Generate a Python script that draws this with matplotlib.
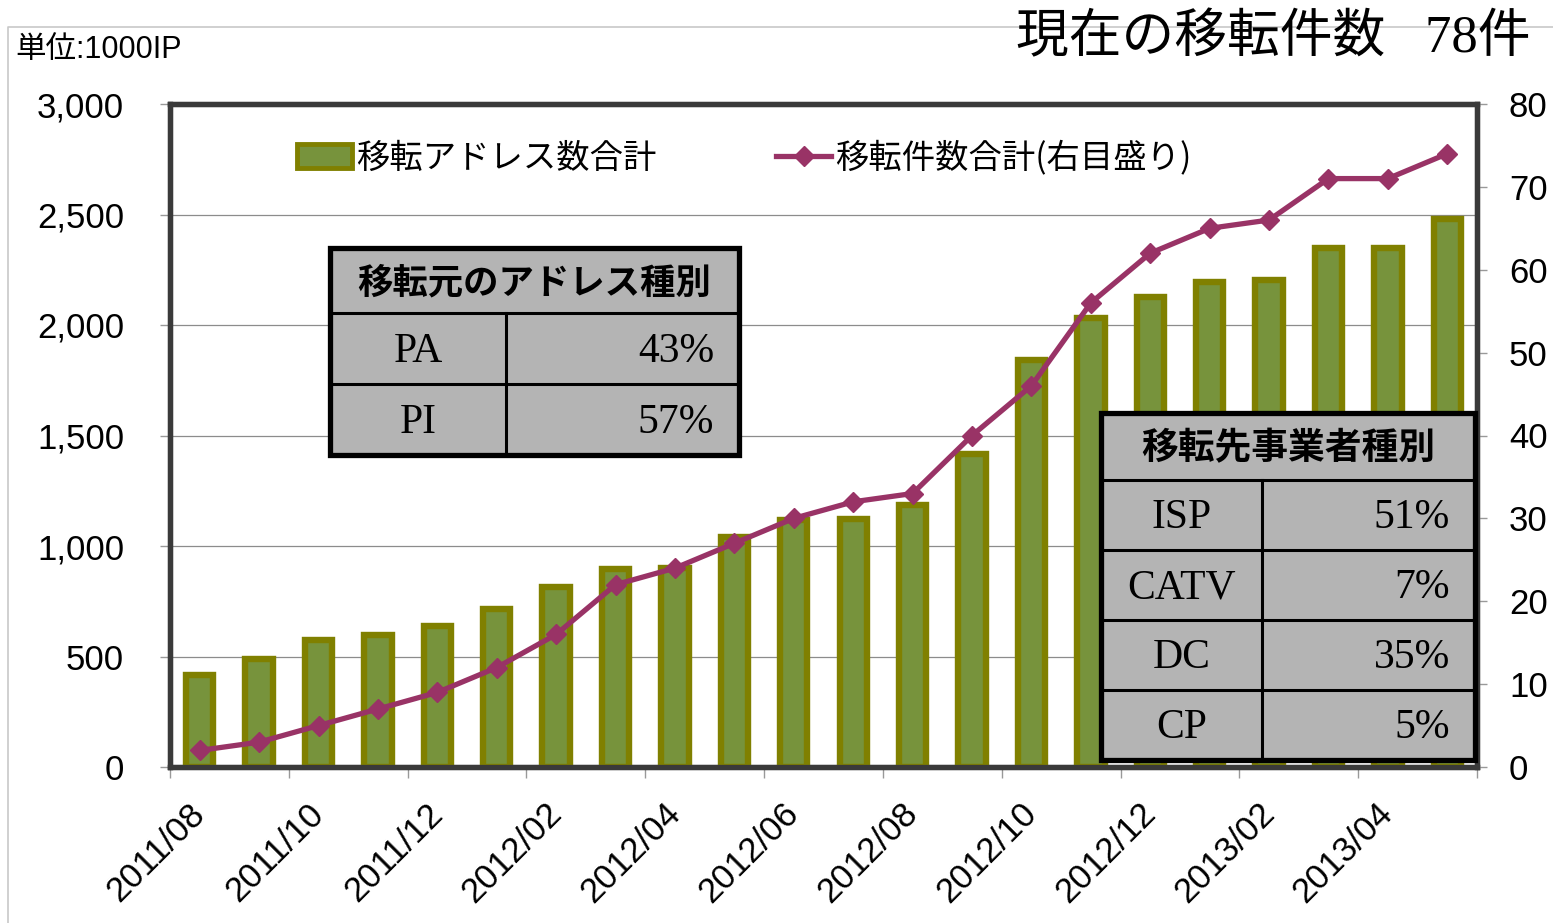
import numpy as np
import matplotlib.pyplot as plt
from matplotlib.patches import Rectangle, Patch
from matplotlib.lines import Line2D

plt.rcParams['font.family'] = ['Liberation Sans', 'Noto Sans CJK JP', 'DejaVu Sans']

# data
months = ['2011/08', '2011/09', '2011/10', '2011/11', '2011/12', '2012/01',
          '2012/02', '2012/03', '2012/04', '2012/05', '2012/06', '2012/07',
          '2012/08', '2012/09', '2012/10', '2012/11', '2012/12', '2013/01',
          '2013/02', '2013/03', '2013/04', '2013/05']
addr_total = [416, 489, 575, 597, 638, 715, 814, 896, 900, 1041, 1118, 1122,
              1186, 1416, 1842, 2032, 2127, 2195, 2204, 2348, 2348, 2480]
case_total = [2, 3, 5, 7, 9, 12, 16, 22, 24, 27, 30, 32,
              33, 40, 46, 56, 62, 65, 66, 71, 71, 74]

src_header = '移転元のアドレス種別'
src_names = ['PA', 'PI']
src_pct = ['43%', '57%']
dst_header = '移転先事業者種別'
dst_names = ['ISP', 'CATV', 'DC', 'CP']
dst_pct = ['51%', '7%', '35%', '5%']

BAR_FACE, BAR_EDGE, LINE_C = '#77933C', '#808000', '#993366'

W, H = 1553, 923
fig = plt.figure(figsize=(W / 100, H / 100), dpi=100)
ax = fig.add_axes([170 / W, 1 - 767 / H, (1477 - 170) / W, (767 - 104) / H])
ax2 = ax.twinx()

x = np.arange(len(months))
ax.bar(x, addr_total, width=0.46, color=BAR_FACE, edgecolor=BAR_EDGE,
       linewidth=4.6, zorder=3)
ax.set_xlim(-0.5, len(months) - 0.5)
ax.set_ylim(0, 3000)
ax.set_yticks(np.arange(0, 3001, 500))
ax.set_yticklabels([f'{v:,}' for v in range(0, 3001, 500)])
ax.yaxis.grid(True, color='#8c8c8c', linewidth=0.9, zorder=0)
ax.set_axisbelow(True)

# category boundaries every 2 months as tick marks, labels at bar centres
ax.set_xticks(np.arange(-0.5, len(months), 2))
ax.set_xticklabels([])
ax.set_xticks(x[::2], minor=True)
ax.set_xticklabels(months[::2], minor=True, rotation=45, ha='right',
                   va='center', rotation_mode='anchor', fontsize=25)
ax.tick_params(axis='x', which='major', length=8, color='#999999', width=1)
ax.tick_params(axis='x', which='minor', length=0, pad=30)
ax.tick_params(axis='y', length=7, color='#999999', width=1, labelsize=25, pad=26)

ax2.plot(x, case_total, color=LINE_C, linewidth=3.8, marker='D',
         markersize=10, zorder=4)
ax2.set_ylim(0, 80)
ax2.set_yticks(np.arange(0, 81, 10))
ax2.tick_params(axis='y', length=7, color='#999999', width=1, labelsize=25, pad=16)

for a in (ax, ax2):
    for s in a.spines.values():
        s.set_color('#3a3a3a')
        s.set_linewidth(3.8)

handles = [Patch(facecolor=BAR_FACE, edgecolor=BAR_EDGE, linewidth=3.5),
           Line2D([], [], color=LINE_C, linewidth=3.8, marker='D', markersize=10)]
ax2.legend(handles, ['移転アドレス数合計', '移転件数合計(右目盛り)'],
           loc='upper left', bbox_to_anchor=(280 / W, 1 - 124 / H),
           bbox_transform=fig.transFigure, ncol=2, frameon=False,
           borderpad=0, handlelength=1.65, handleheight=0.7,
           handletextpad=0.12, columnspacing=3.6,
           prop={'family': ['Noto Sans CJK JP'], 'size': 24})

# overlay in pixel coordinates for the tables and free text
ov = fig.add_axes([0, 0, 1, 1], zorder=10)
ov.set_xlim(0, W)
ov.set_ylim(H, 0)
ov.axis('off')

# light frame of the chart area
ov.plot([8, 8, W], [H, 27, 27], color='#c8c8c8', linewidth=1.2)

ov.text(15, 50, '単位:1000IP', fontsize=22, va='center', ha='left',
        family=['Liberation Sans', 'Noto Sans CJK JP'])
ov.text(1016, 39, '現在の移転件数   78件', fontsize=38, va='center', ha='left',
        family=['Liberation Serif', 'Noto Sans CJK JP'])


def draw_table(x0, x1, xdiv, y0, head_h, row_h, header, names, pcts, hsize):
    n = len(names)
    y1 = y0 + head_h + n * row_h
    ov.add_patch(Rectangle((x0, y0), x1 - x0, y1 - y0, facecolor='#b4b4b4',
                           edgecolor='none'))
    ov.text((x0 + x1) / 2, y0 + head_h / 2 + 2, header, fontsize=hsize,
            fontweight='bold', ha='center', va='center',
            family=['Noto Sans CJK JP'])
    for i, (nm, pc) in enumerate(zip(names, pcts)):
        ya = y0 + head_h + i * row_h
        ov.plot([x0, x1], [ya, ya], color='black', linewidth=2.2)
        yc = ya + row_h / 2
        ov.text((x0 + xdiv) / 2, yc + 3, nm, fontsize=30, ha='center',
                va='center', family=['Liberation Serif'])
        ov.text(x1 - 25, yc + 3, pc, fontsize=30, ha='right', va='center',
                family=['Liberation Serif'])
    ov.plot([xdiv, xdiv], [y0 + head_h, y1], color='black', linewidth=2.2)
    ov.add_patch(Rectangle((x0, y0), x1 - x0, y1 - y0, facecolor='none',
                           edgecolor='black', linewidth=3.8))


draw_table(330, 739, 506, 248, 65, 71, src_header, src_names, src_pct, 25.5)
draw_table(1101, 1475, 1262, 413, 67, 70, dst_header, dst_names, dst_pct, 26.5)

fig.savefig('out.png', dpi=100)
